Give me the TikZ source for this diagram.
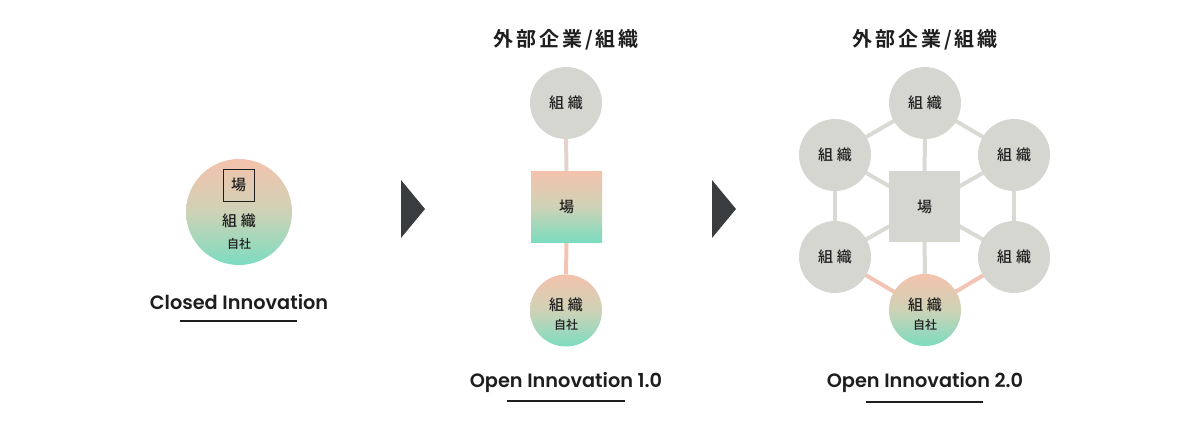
\documentclass[tikz,border=0pt]{standalone}
\usepackage{fontspec}
\setmainfont{Poppins}[UprightFont=* SemiBold]
\newfontfamily\cjk{Noto Sans CJK JP}[UprightFont=* Medium]
\newfontfamily\cjkb{Noto Sans CJK JP}[UprightFont=* Bold]
\usetikzlibrary{backgrounds}
\definecolor{pinkc}{RGB}{244,194,172}
\definecolor{mintc}{RGB}{124,220,192}
\definecolor{midc}{RGB}{206,210,182}
\definecolor{grayc}{RGB}{214,214,209}
\definecolor{linec}{RGB}{218,218,213}
\definecolor{plinec}{RGB}{241,196,180}
\definecolor{tlinec}{RGB}{226,212,205}
\definecolor{arrowc}{RGB}{58,61,63}
\definecolor{txtc}{RGB}{30,30,30}
\newcommand{\sosiki}{組\hspace{4pt}織}
\newcommand{\gaibu}{外\hspace{3pt}部\hspace{3pt}企\hspace{3pt}業\hspace{3pt}/\hspace{3pt}組\hspace{3pt}織}
\tikzset{
  x=1pt,y=-1pt,
  jfont/.style={font=\cjk\fontsize{15}{17}\selectfont},
  orgc/.style={circle,fill=grayc,minimum size=72pt,inner sep=0pt,text=txtc,jfont},
  selfc/.style={circle,top color=pinkc,bottom color=mintc,middle color=midc,minimum size=72pt,inner sep=0pt},
  gsq/.style={rectangle,fill=grayc,minimum size=71pt,inner sep=0pt,text=txtc,jfont},
  gradsq/.style={rectangle,top color=pinkc,bottom color=mintc,middle color=midc,minimum size=71pt,inner sep=0pt,text=txtc,jfont},
  jtxt/.style={inner sep=0pt,text=txtc,jfont},
  jsmall/.style={inner sep=0pt,text=txtc,font=\cjk\fontsize{12}{14}\selectfont},
  ttl/.style={inner sep=0pt,text=txtc,font=\cjkb\fontsize{20}{24}\selectfont},
  entxt/.style={inner sep=0pt,text=txtc,font=\fontsize{19.3}{22}\selectfont},
  uline/.style={line width=2pt,draw=txtc},
  glink/.style={line width=4pt,draw=linec},
  plink/.style={line width=4pt,draw=plinec},
  tlink/.style={line width=4pt,draw=tlinec},
  chev/.style={fill=arrowc}
}
\begin{document}
\begin{tikzpicture}
\useasboundingbox (0,0) rectangle (1200,421);
% Panel 1
\node[selfc,minimum size=106pt] (c1) at (239,212) {};
\node[draw=txtc,line width=0.9pt,minimum width=31pt,minimum height=32pt,inner sep=0pt,jfont,text=txtc] (ba1) at (238.5,185) {場};
\node[jtxt] (o1) at (239,221) {\sosiki};
\node[jsmall] (s1) at (239,244) {自社};
\node[entxt] (t1) at (239,302) {Closed Innovation};
\coordinate (u1a) at (180,321);
\coordinate (u1b) at (297,321);
\draw[uline] (u1a) -- (u1b);
% Arrows
\coordinate (a1a) at (401,180); \coordinate (a1b) at (425,209); \coordinate (a1c) at (401,238);
\fill[chev] (a1a) -- (a1b) -- (a1c) -- cycle;
\coordinate (a2a) at (712,180); \coordinate (a2b) at (736,209); \coordinate (a2c) at (712,238);
\fill[chev] (a2a) -- (a2b) -- (a2c) -- cycle;
% Panel 2
\node[ttl] (h2) at (566,40) {\gaibu};
\node[orgc] (p2top) at (566,103) {\sosiki};
\node[gradsq] (p2sq) at (566.5,206.5) {場};
\node[selfc] (p2bot) at (566,310.5) {};
\node[jtxt] (p2o) at (566,305) {\sosiki};
\node[jsmall] (p2s) at (566,325) {自社};
\node[entxt] (t2) at (566,382) {Open Innovation 1.0};
\coordinate (u2a) at (507,401);
\coordinate (u2b) at (625,401);
\draw[uline] (u2a) -- (u2b);
\begin{scope}[on background layer]
\draw[tlink] (p2top) -- (p2sq);
\draw[plink] (p2sq) -- (p2bot);
\end{scope}
% Panel 3
\node[ttl] (h3) at (925,40) {\gaibu};
\node[gsq] (p3sq) at (924.5,206.5) {場};
\node[orgc] (n1) at (925,103) {\sosiki};
\node[orgc] (n2) at (835,155) {\sosiki};
\node[orgc] (n3) at (1014,155) {\sosiki};
\node[orgc] (n4) at (835,257) {\sosiki};
\node[orgc] (n5) at (1014,257) {\sosiki};
\node[selfc] (n6) at (925,310) {};
\node[jtxt] (n6o) at (925,305) {\sosiki};
\node[jsmall] (n6s) at (925,325) {自社};
\node[entxt] (t3) at (925,382) {Open Innovation 2.0};
\coordinate (u3a) at (866,402);
\coordinate (u3b) at (983,402);
\draw[uline] (u3a) -- (u3b);
\begin{scope}[on background layer]
\draw[glink] (n1.center) -- (n2.center);
\draw[glink] (n1.center) -- (n3.center);
\draw[glink] (n2.center) -- (n4.center);
\draw[glink] (n3.center) -- (n5.center);
\draw[plink] (n4.center) -- (n6.center);
\draw[plink] (n5.center) -- (n6.center);
\draw[glink] (p3sq.center) -- (n1.center);
\draw[glink] (p3sq.center) -- (n2.center);
\draw[glink] (p3sq.center) -- (n3.center);
\draw[glink] (p3sq.center) -- (n4.center);
\draw[glink] (p3sq.center) -- (n5.center);
\draw[glink] (p3sq.center) -- (n6.center);
\end{scope}
\end{tikzpicture}
\end{document}
